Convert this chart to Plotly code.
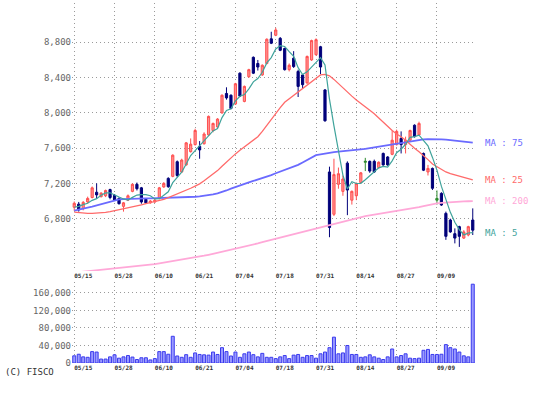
import plotly.graph_objects as go

# ---- trading days (2024) ----
may_days = [15, 16, 17, 20, 21, 22, 23, 24, 27, 28, 29, 30, 31]
jun_days = [3, 4, 5, 6, 7, 10, 11, 12, 13, 14, 17, 18, 19, 20, 21, 24, 25, 26, 27, 28]
jul_days = [1, 2, 3, 4, 5, 8, 9, 10, 11, 12, 16, 17, 18, 19, 22, 23, 24, 25, 26, 29, 30, 31]
aug_days = [1, 2, 5, 6, 7, 8, 9, 13, 14, 15, 16, 19, 20, 21, 22, 23, 26, 27, 28, 29, 30]
sep_days = [2, 3, 4, 5, 6, 9, 10, 11, 12, 13, 17, 18, 19, 20]
dates = ([f"05/{d:02d}" for d in may_days] + [f"06/{d:02d}" for d in jun_days] +
         [f"07/{d:02d}" for d in jul_days] + [f"08/{d:02d}" for d in aug_days] +
         [f"09/{d:02d}" for d in sep_days])

tick_labels = ["05/15", "05/28", "06/10", "06/21", "07/04", "07/18", "07/31", "08/14", "08/27", "09/09"]
price_ticks = [6800, 7200, 7600, 8000, 8400, 8800]
volume_ticks = [0, 40000, 80000, 120000, 160000]
green_dates = ["08/16", "09/09"]

open_ = [6930, 6965, 6915, 6990, 7040, 7100, 7050, 7060, 7130, 7065,
         7030, 6940, 7010, 7110, 7190, 7150, 7020, 6980, 6990, 7030,
         7160, 7257, 7280, 7446, 7330, 7410, 7560, 7640, 7620, 7650,
         7750, 7800, 7840, 8000, 8220, 8200, 8100, 8450, 8130, 8410,
         8630, 8560, 8430, 8560, 8840, 8880, 8845, 8730, 8490, 8620,
         8470, 8430, 8340, 8600, 8660, 8750, 8260, 7330, 6850, 7190,
         7110, 7430, 7010, 7060, 7210, 7440, 7450, 7450, 7380, 7540,
         7500, 7530, 7640, 7710, 7640, 7690, 7860, 7750, 7540, 7330,
         7370, 7030, 7087, 6860, 6785, 6630, 6710, 6580, 6615, 6785]
high = [6995, 6990, 7000, 7050, 7165, 7200, 7100, 7130, 7140, 7080,
        7040, 6990, 7075, 7200, 7210, 7160, 7030, 7010, 7020, 7160,
        7215, 7270, 7530, 7460, 7480, 7670, 7710, 7820, 7680, 7780,
        7970, 7890, 7940, 8210, 8290, 8210, 8340, 8460, 8310, 8500,
        8640, 8600, 8550, 8845, 8920, 8965, 8860, 8740, 8560, 8700,
        8490, 8440, 8650, 8830, 8845, 8760, 8270, 7390, 7480, 7380,
        7290, 7450, 7120, 7210, 7330, 7490, 7460, 7470, 7450, 7550,
        7510, 7800, 7810, 7790, 7730, 7810, 7870, 7900, 7550, 7410,
        7380, 7120, 7100, 6880, 6800, 6690, 6720, 6670, 6720, 6917]
low = [6890, 6880, 6895, 6975, 7030, 7030, 7040, 7045, 7020, 7000,
       6960, 6880, 7000, 7100, 7120, 6970, 6970, 6970, 6980, 7020,
       7150, 7150, 7270, 7270, 7320, 7400, 7550, 7630, 7480, 7640,
       7740, 7780, 7830, 7990, 8150, 8040, 8090, 8180, 8120, 8400,
       8440, 8480, 8420, 8550, 8780, 8870, 8700, 8480, 8470, 8510,
       8180, 8280, 8330, 8590, 8650, 8440, 7900, 6590, 6830, 7140,
       7060, 6840, 6960, 7010, 7200, 7340, 7320, 7320, 7370, 7400,
       7400, 7520, 7630, 7540, 7540, 7680, 7720, 7740, 7340, 7290,
       7125, 6960, 6945, 6560, 6640, 6520, 6480, 6570, 6600, 6615]
close = [6975, 6900, 6985, 7030, 7150, 7070, 7090, 7120, 7040, 7010,
         6970, 6980, 7060, 7190, 7140, 6990, 6980, 7000, 7010, 7150,
         7200, 7163, 7520, 7290, 7465, 7660, 7645, 7800, 7580, 7760,
         7960, 7880, 7930, 8200, 8170, 8050, 8330, 8190, 8300, 8490,
         8450, 8520, 8540, 8835, 8790, 8940, 8710, 8490, 8540, 8525,
         8300, 8320, 8640, 8820, 8830, 8520, 7910, 6700, 7300, 7310,
         7250, 7125, 7110, 7200, 7320, 7450, 7340, 7330, 7440, 7410,
         7410, 7690, 7790, 7640, 7690, 7800, 7730, 7880, 7350, 7370,
         7145, 7010, 6955, 6600, 6650, 6580, 6600, 6650, 6710, 6670]

ma5 = [6930, 6940, 6960, 6975, 7008, 7027, 7065, 7092, 7094, 7066,
       7046, 7024, 7012, 7042, 7068, 7072, 7072, 7060, 7024, 7026,
       7068, 7105, 7209, 7265, 7328, 7420, 7516, 7572, 7630, 7689,
       7749, 7796, 7822, 7946, 8028, 8046, 8136, 8188, 8208, 8272,
       8352, 8390, 8460, 8567, 8627, 8725, 8763, 8753, 8694, 8641,
       8513, 8435, 8465, 8521, 8582, 8626, 8544, 8156, 7852, 7548,
       7294, 7137, 7219, 7199, 7201, 7241, 7284, 7328, 7376, 7394,
       7386, 7456, 7548, 7588, 7644, 7722, 7730, 7748, 7690, 7626,
       7495, 7351, 7166, 7016, 6872, 6759, 6677, 6616, 6638, 6642]
ma25 = [6875, 6868, 6862, 6860, 6860, 6862, 6866, 6872, 6880, 6890,
        6900, 6910, 6920, 6932, 6945, 6958, 6970, 6982, 6993, 7005,
        7020, 7040, 7060, 7080, 7100, 7120, 7145, 7170, 7195, 7230,
        7265, 7300, 7345, 7395, 7445, 7495, 7535, 7575, 7615, 7655,
        7692, 7730, 7790, 7860, 7930, 8000, 8060, 8120, 8160, 8200,
        8240, 8270, 8310, 8360, 8400, 8430, 8437, 8420, 8380, 8330,
        8290, 8240, 8190, 8146, 8110, 8070, 8030, 7990, 7940, 7890,
        7850, 7800, 7760, 7730, 7690, 7640, 7600, 7560, 7520, 7470,
        7420, 7390, 7360, 7330, 7310, 7295, 7280, 7265, 7250, 7240]
ma75 = [6891, 6900, 6912, 6925, 6937, 6950, 6965, 6980, 6995, 7010,
        7018, 7022, 7025, 7027, 7028, 7029, 7030, 7031, 7032, 7033,
        7034, 7035, 7037, 7039, 7041, 7043, 7046, 7049, 7052, 7058,
        7066, 7075, 7086, 7100, 7120, 7140, 7160, 7178, 7195, 7212,
        7228, 7243, 7257, 7275, 7295, 7315, 7333, 7352, 7372, 7392,
        7410, 7438, 7466, 7494, 7520, 7530, 7540, 7548, 7555, 7560,
        7565, 7569, 7573, 7576, 7583, 7592, 7601, 7610, 7618, 7626,
        7633, 7640, 7648, 7658, 7668, 7678, 7686, 7694, 7700, 7702,
        7703, 7703, 7700, 7696, 7690, 7684, 7677, 7671, 7666, 7662]
ma200 = [6188, 6193, 6199, 6204, 6210, 6215, 6220, 6225, 6230, 6235,
         6240, 6246, 6251, 6257, 6263, 6269, 6275, 6280, 6286, 6294,
         6302, 6310, 6318, 6327, 6335, 6344, 6352, 6360, 6369, 6380,
         6391, 6402, 6413, 6424, 6436, 6448, 6460, 6472, 6484, 6496,
         6508, 6520, 6533, 6546, 6559, 6572, 6585, 6598, 6611, 6624,
         6637, 6650, 6663, 6676, 6690, 6705, 6720, 6733, 6746, 6759,
         6772, 6785, 6798, 6811, 6822, 6830, 6838, 6846, 6854, 6862,
         6870, 6878, 6886, 6894, 6902, 6912, 6922, 6932, 6943, 6955,
         6965, 6974, 6979, 6984, 6988, 6991, 6994, 6996, 6998, 7000]

volume = [16400, 20000, 14000, 13000, 26000, 25000, 9000, 9000, 14000, 18700,
          11000, 14000, 17000, 13500, 8000, 12000, 12000, 7000, 10000, 26000,
          26000, 20000, 61000, 16000, 13000, 19000, 13000, 23000, 19500, 18700,
          18000, 25000, 19500, 35000, 26000, 16000, 25000, 13000, 21000, 25000,
          19000, 14000, 22000, 13000, 13000, 10000, 14000, 17000, 10000, 18000,
          19500, 13000, 17000, 17000, 11000, 21000, 25000, 35000, 59000, 21000,
          23000, 40000, 19500, 19500, 13000, 14000, 18700, 14000, 11000, 8000,
          14000, 32000, 14000, 17000, 21000, 11000, 10000, 11000, 29000, 31000,
          19500, 19500, 20000, 42000, 35000, 32000, 25000, 16400, 14000, 180000]

# ---- build figure ----
is_green = [d in green_dates for d in dates]
def pick(arr, keep):
    return [v if k else None for v, k in zip(arr, keep)]
normal = [not g for g in is_green]

MONO = "DejaVu Sans Mono"
fig = go.Figure()

fig.add_trace(go.Candlestick(
    x=dates, open=pick(open_, normal), high=pick(high, normal),
    low=pick(low, normal), close=pick(close, normal),
    increasing=dict(line=dict(color="#ff4f4f", width=1), fillcolor="#ff9090"),
    decreasing=dict(line=dict(color="#00007a", width=1), fillcolor="#00007a"),
    whiskerwidth=0, xaxis="x", yaxis="y", hoverinfo="skip"))
fig.add_trace(go.Candlestick(
    x=dates, open=pick(open_, is_green), high=pick(high, is_green),
    low=pick(low, is_green), close=pick(close, is_green),
    increasing=dict(line=dict(color="#2e8b2e", width=1), fillcolor="#2e8b2e"),
    decreasing=dict(line=dict(color="#2e8b2e", width=1), fillcolor="#2e8b2e"),
    whiskerwidth=0, xaxis="x", yaxis="y", hoverinfo="skip"))

ma_specs = [
    (ma200, "#ffa8d8", 1.8, "MA : 200"),
    (ma75, "#6a6aff", 1.8, "MA : 75"),
    (ma25, "#ff6a6a", 1.3, "MA : 25"),
    (ma5, "#3fa39b", 1.2, "MA : 5"),
]
for arr, col, w, _ in ma_specs:
    fig.add_trace(go.Scatter(x=dates, y=arr, mode="lines",
                             line=dict(color=col, width=w),
                             xaxis="x", yaxis="y", hoverinfo="skip"))

fig.add_trace(go.Bar(x=dates, y=volume, marker=dict(color="#9a9aff",
                     line=dict(color="#3a3aee", width=1)),
                     xaxis="x2", yaxis="y2", hoverinfo="skip"))

annotations = []
for arr, col, w, label in ma_specs:
    annotations.append(dict(xref="paper", yref="y", x=1.021, y=arr[-1],
                            xanchor="left", yanchor="middle", text=label,
                            showarrow=False,
                            font=dict(family=MONO, size=9, color=col)))
annotations.append(dict(xref="paper", yref="paper", x=-0.171, y=-0.025,
                        xanchor="left", yanchor="middle", text="(C) FISCO",
                        showarrow=False,
                        font=dict(family=MONO, size=9, color="#333333")))

grid = dict(showgrid=True, gridcolor="#9a9a9a", gridwidth=1, griddash="1px,3px",
            zeroline=False, showline=False)
xcommon = dict(type="category", range=[-0.5, len(dates) - 0.5],
               tickmode="array", tickvals=tick_labels, ticktext=tick_labels,
               ticks="", ticklabelposition="outside right",
               tickfont=dict(family=MONO, size=6, color="#333333", weight="bold"),
               rangeslider=dict(visible=False), **grid)

fig.update_layout(
    width=536, height=393,
    margin=dict(l=72, r=60.5, t=3, b=30, autoexpand=False),
    paper_bgcolor="white", plot_bgcolor="white",
    showlegend=False, hovermode=False, bargap=0.33,
    xaxis=dict(anchor="y", **xcommon),
    xaxis2=dict(anchor="y2", matches="x", **xcommon),
    yaxis=dict(domain=[0.2556, 1.0], range=[6207, 9246], tickmode="array",
               tickvals=price_ticks, tickformat=",", ticks="",
               tickfont=dict(family=MONO, size=9, color="#666666"), **grid),
    yaxis2=dict(domain=[0.0, 0.225], range=[0, 185000], tickmode="array",
                tickvals=volume_ticks, tickformat=",", ticks="",
                tickfont=dict(family=MONO, size=9, color="#666666"), **grid),
    annotations=annotations,
)

fig.write_html("out.html", config={"displayModeBar": False, "staticPlot": True},
               post_script="document.body.style.margin='0';document.body.style.overflow='hidden';")
